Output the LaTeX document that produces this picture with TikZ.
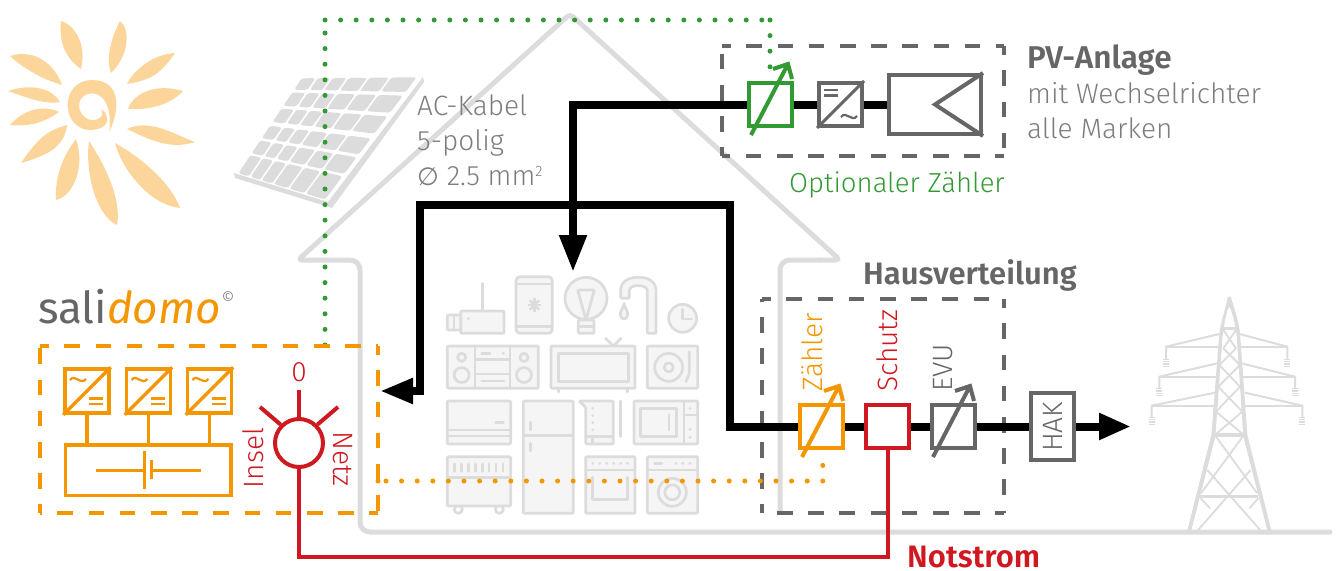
\documentclass[tikz,border=0pt]{standalone}
\usepackage{fontspec}
\setmainfont{Fira Sans Light}[BoldFont={Fira Sans SemiBold},ItalicFont={Fira Sans Light Italic}]
\newfontfamily\regfont{Fira Sans}
\newfontfamily\symfont{DejaVu Sans}
\usetikzlibrary{arrows.meta,calc,shapes.geometric}
\definecolor{ogreen}{HTML}{339933}
\definecolor{oorange}{HTML}{F39600}
\definecolor{ored}{HTML}{CF1820}
\definecolor{ogray}{HTML}{666666}
\definecolor{lgray}{HTML}{DCDCDC}
\definecolor{lfill}{HTML}{F5F5F5}
\definecolor{osun}{HTML}{FBD59A}
\newcommand{\fs}[1]{\fontsize{#1}{#1}\selectfont}
\tikzset{
 cbox/.style={draw=#1,line width=4pt,fill=white,minimum width=43pt,minimum height=43pt,inner sep=0pt,rectangle},
 cthin/.style={draw=#1,line width=3.5pt,fill=white,minimum width=44pt,minimum height=44pt,inner sep=0pt,rectangle},
 wire/.style={line width=8pt,black},
 owire/.style={line width=3.5pt,oorange},
 rwire/.style={line width=4pt,ored},
 dots/.style={line width=5pt,line cap=round,dash pattern=on 0pt off 15.6pt,#1},
 dside/.style={line width=4pt,#1,dash pattern=on 15.6pt off 15.6pt,dash phase=6.9pt},
 metar/.style={line width=4pt,#1},
 lbl/.style={inner sep=0pt,anchor=base west,font=\fs{28},text=#1},
 vlbl/.style={inner sep=0pt,rotate=90,anchor=west,font=\fs{28},text=#1},
 ico/.style={line width=2.7pt,draw=lgray,fill=lfill,line join=round,line cap=round,rounded corners=1pt},
 icl/.style={line width=2.7pt,draw=lgray,line cap=round,line join=round},
 tw/.style={line width=#1,lgray,line join=round},
 cell/.style={fill=lgray,rounded corners=2.5pt},
}
\newcommand{\dsbox}[3]{%
 \draw[dside=#3] (#1) -- (#1-|#2);
 \draw[dside=#3] (#1-|#2) -- (#2);
 \draw[dside=#3] (#2) -- (#2-|#1);
 \draw[dside=#3] (#2-|#1) -- (#1);
}
\newcommand{\acell}[4]{%
 \fill[cell] ($($(ctl)!#1!(ctr)$)!#3!($(cbl)!#1!(cbr)$)$) -- ($($(ctl)!#2!(ctr)$)!#3!($(cbl)!#2!(cbr)$)$) -- ($($(ctl)!#2!(ctr)$)!#4!($(cbl)!#2!(cbr)$)$) -- ($($(ctl)!#1!(ctr)$)!#4!($(cbl)!#1!(cbr)$)$) -- cycle;
}
\begin{document}
\begin{tikzpicture}[x=1pt,y=-1pt]
\useasboundingbox (0,0) rectangle (1338,570);
% ---- sun
\begin{scope}[fill=osun]
\fill (61,21) .. controls (75,25) and (87,45) .. (81,69) .. controls (65,58) and (59,42) .. cycle;
\fill (120,21) .. controls (130,28) and (130,55) .. (111,73) .. controls (106,60) and (110,40) .. cycle;
\fill (175,53) .. controls (155,54) and (135,68) .. (127,84) .. controls (150,80) and (160,75) .. cycle;
\fill (183,91) .. controls (160,84) and (135,90) .. (128,109) .. controls (150,110) and (170,105) .. cycle;
\fill (195,142) .. controls (175,135) and (150,118) .. (127,129) .. controls (150,140) and (170,150) .. cycle;
\fill (180,208) .. controls (172,185) and (145,160) .. (115,143) .. controls (122,170) and (150,205) .. cycle;
\fill (117,225) .. controls (122,200) and (105,165) .. (89,141) .. controls (85,170) and (95,215) .. cycle;
\fill (56,200) .. controls (75,195) and (85,165) .. (76,139) .. controls (60,160) and (55,180) .. cycle;
\fill (21,163) .. controls (50,155) and (65,145) .. (67,125) .. controls (50,130) and (40,135) .. cycle;
\fill (10,125) .. controls (30,127) and (45,122) .. (59,112) .. controls (45,105) and (25,108) .. cycle;
\fill (8,91) .. controls (25,97) and (45,105) .. (60,102) .. controls (50,85) and (25,85) .. cycle;
\fill (10,56) .. controls (25,70) and (45,80) .. (62,85) .. controls (55,65) and (35,48) .. cycle;
\begin{scope}[shift={(55,70)},x=.33333pt,y=-.33333pt]
\fill (163,185) .. controls (195,120) and (200,30) .. (110,30) .. controls (65,30) and (38,65) .. (38,105) .. controls (38,150) and (70,180) .. (105,180) .. controls (135,180) and (165,165) .. (155,140) .. controls (155,130) and (148,122) .. (140,118) .. controls (143,130) and (145,150) .. (112,150) .. controls (90,150) and (72,128) .. (72,105) .. controls (72,85) and (90,70) .. (110,70) .. controls (145,70) and (170,105) .. cycle;
\end{scope}
\end{scope}
% ---- solar panel
\fill[lgray] (234,173) -- (328,202) -- (423,77) -- (424,82) -- (332,208) -- (235,178) -- cycle;
\coordinate (ctl) at (301.7,78.3);
\coordinate (ctr) at (416.7,77.3);
\coordinate (cbl) at (238.3,173.3);
\coordinate (cbr) at (325,199.5);
\foreach \va/\vb in {0/.12,.15/.29,.32/.46,.50/.63,.655/.79,.81/1}{
 \foreach \ua/\ub in {0/.12,.14/.25,.27/.39,.41/.57,.59/.76,.78/1}{
  \acell{\ua}{\ub}{\va}{\vb}
 }
}
% ---- house
\draw[line width=5pt,lgray,line join=round,line cap=round,rounded corners=10pt] (1330,532) -- (360,532) -- (360,260) -- (320,260);
\draw[line width=5pt,lgray,line join=round,line cap=round,rounded corners=4pt] (320,260) -- (298,260) -- (570,14) -- (840,260) -- (820,260);
\draw[line width=5pt,lgray,line cap=round,rounded corners=10pt] (820,260) -- (780,260) -- (780,512);
% ---- appliances
\begin{scope}[shift={(430,270)},x=.33333pt,y=-.33333pt]
 \draw[ico] (92,123) rectangle (222,190); \draw[ico] (52,135) rectangle (92,180);
 \draw[icl] (72,135) -- (72,180); \draw[icl] (157,40) -- (157,123);
 \fill[lgray] (115,146) circle (1.6pt);
 \draw[ico,rounded corners=4pt] (258,20) rectangle (367,190);
 \draw[icl] (258,42) -- (367,42); \draw[icl] (258,170) -- (367,170);
 \foreach \a in {0,45,...,315}{\draw[line width=2.4pt,lgray] (313,105) -- ++(\a:20);}
 \draw[ico] (468,85) circle (21pt);
 \draw[ico] (445,150) rectangle (492,190); \draw[icl] (445,170) -- (492,170);
 \draw[ico] (443,60) -- (493,60) -- (468,150) -- cycle;
 \draw[ico] (572,85) -- (572,65) .. controls (572,35) and (595,22) .. (625,22) .. controls (655,22) and (678,35) .. (678,65) -- (678,190) -- (652,190) -- (652,65) .. controls (652,52) and (640,47) .. (625,47) .. controls (610,47) and (598,52) .. (598,65) -- (598,85) -- cycle;
 \draw[ico] (582,103) .. controls (575,120) and (570,128) .. (572,135) .. controls (574,150) and (590,150) .. (592,135) .. controls (594,128) and (589,120) .. (582,103) -- cycle;
 \draw[ico] (758,145) circle (14pt); \draw[icl] (758,118) -- (758,147) -- (785,147);
 \draw[ico] (52,228) rectangle (325,355);
 \draw[icl] (135,228) -- (135,355); \draw[icl] (240,228) -- (240,355);
 \draw[icl] (135,268) -- (240,268); \draw[icl] (135,312) -- (240,312);
 \draw[icl] (95,262) circle (4pt); \draw[icl] (95,315) circle (7.5pt);
 \draw[icl] (282,262) circle (4pt); \draw[icl] (282,315) circle (7.5pt);
 \draw[icl] (155,250) -- (180,250); \fill[lgray] (220,250) circle (1.6pt); \draw[icl] (155,333) -- (222,333);
 \draw[icl] (527,205) -- (550,228) -- (573,205);
 \draw[icl] (385,355) -- (385,366); \draw[icl] (592,355) -- (592,366);
 \draw[ico] (363,228) rectangle (615,355); \draw[icl] (385,250) rectangle (595,335);
 \draw[ico] (652,228) rectangle (803,355);
 \draw[icl] (716,292) circle (14pt); \draw[icl] (716,292) circle (4.5pt);
 \draw[icl] (778,245) -- (778,310) -- (768,335);
 \draw[ico] (52,393) rectangle (242,522);
 \draw[icl] (52,480) -- (242,480); \draw[icl] (52,498) -- (242,498); \draw[icl] (197,458) -- (220,458);
 \draw[ico] (280,393) rectangle (430,730); \draw[icl] (280,497) -- (430,497);
 \draw[icl] (302,457) -- (302,480); \draw[icl] (302,520) -- (302,543);
 \draw[ico] (447,393) -- (550,393) -- (550,522) -- (467,522) -- (467,412) -- cycle;
 \draw[icl] (572,393) -- (572,500); \draw[icl] (467,500) -- (550,500); \draw[icl] (487,500) -- (487,522);
 \foreach \y in {415,437,458,480}{\fill[lgray] (488,\y) circle (1.5pt);}
 \draw[ico] (612,393) rectangle (803,522); \draw[icl] (632,415) rectangle (740,500);
 \draw[icl] (762,393) -- (762,522); \draw[icl] (762,435) -- (803,435); \draw[icl] (717,435) -- (717,480);
 \foreach \y in {415,478,502}{\fill[lgray] (780,\y) circle (1.5pt);}
 \draw[icl] (85,718) circle (4pt); \draw[icl] (208,718) circle (4pt);
 \draw[ico] (52,560) rectangle (242,708); \draw[icl] (52,622) -- (242,622);
 \foreach \x in {73,94,115,136,157,177,198,219}{\draw[icl] (\x,582) -- (\x,604);}
 \draw[ico] (467,560) rectangle (615,730); \draw[icl] (467,600) -- (615,600);
 \foreach \x in {488,509,530,551,572,592}{\fill[lgray] (\x,580) circle (1.5pt);}
 \draw[icl] (488,622) -- (488,688) -- (593,688) -- (593,622);
 \draw[ico] (652,560) rectangle (803,730); \draw[icl] (652,600) -- (803,600);
 \draw[icl] (674,580) -- (696,580);
 \foreach \x in {738,758,780}{\fill[lgray] (\x,580) circle (1.5pt);}
 \draw[icl] (727,667) circle (14pt); \draw[icl] (727,667) circle (7.5pt);
\end{scope}
% ---- pylon
\begin{scope}[shift={(1130,280)},x=.33333pt,y=-.33333pt]
 \fill[lgray] (294,50) -- (302,50) .. controls (315,90) and (327,130) .. (330,160) -- (352,465) -- (425,755) -- (413,755) -- (340,470) -- (320,165) .. controls (315,130) and (305,90) .. (298,80) .. controls (290,90) and (283,130) .. (278,165) -- (256,470) -- (183,755) -- (171,755) -- (244,465) -- (268,160) .. controls (272,130) and (285,90) .. cycle;
 \draw[tw=3pt] (278,145) -- (322,145);
 \draw[tw=3.5pt] (250,465) -- (345,465);
 \draw[tw=3pt] (210,650) -- (385,650);
 \draw[tw=1.8pt] (280,150) -- (318,205) -- (268,255) -- (330,320) -- (258,395) -- (338,462);
 \draw[tw=1.8pt] (318,150) -- (280,205) -- (330,255) -- (265,320) -- (337,395) -- (258,462);
 \draw[tw=1.8pt] (258,470) -- (382,640);
 \draw[tw=1.8pt] (338,470) -- (213,640);
 \draw[tw=1.8pt] (232,570) -- (395,755);
 \draw[tw=1.8pt] (362,570) -- (200,755);
 \draw[tw=1.8pt] (212,655) -- (240,685); \draw[tw=1.8pt] (385,655) -- (358,685);
 \foreach \xl/\xr/\yb/\yc/\yd/\xa/\xc in {108/472/162/200/238/268/328,88/495/250/290/326/262/335,65/517/338/377/412/255/345}{
  \draw[tw=2pt] (\xa,\yb) -- (\xl,\yc) -- (\xl,\yd);
  \draw[tw=2pt] (\xl,\yc) -- (\xa,\yc);
  \draw[tw=2pt] (\xc,\yb) -- (\xr,\yc) -- (\xr,\yd);
  \draw[tw=2pt] (\xr,\yc) -- (\xc,\yc);
  \foreach \xx in {\xl,\xr}{\foreach \k in {0,7,14,21}{\draw[tw=1.6pt] (\xx-9,\yd+\k) -- (\xx+9,\yd+\k);}}
 }
\end{scope}
% ---- dotted signal lines
\coordinate (gs) at (325,345);
\coordinate (gc) at (325,20);
\coordinate (gd) at (770,20);
\coordinate (ot) at (378,481);
\coordinate (os) at (386,481);
\coordinate (oc) at (822.8,481);
\coordinate (oe) at (822.8,452);
\draw[dots=ogreen] (gs) -- (gc);
\draw[dots=ogreen] (gc) -- (gd);
% ---- dashed enclosures
\coordinate (pvA) at (722,46); \coordinate (pvB) at (1004,156);
\coordinate (hvA) at (762,299); \coordinate (hvB) at (1004,513);
\coordinate (saA) at (40,346); \coordinate (saB) at (378,513);
\dsbox{pvA}{pvB}{ogray}
\dsbox{hvA}{hvB}{ogray}
\dsbox{saA}{saB}{oorange}
\draw[dots=oorange] (ot) -- (os);
\draw[dots=oorange] (os) -- (oc);
\draw[dots=oorange] (oc) -- (oe);
% ---- components
\node[cbox=ogreen] (optm) at (770,104.5) {};
\node[cbox=ogray,minimum width=43pt] (conv) at (840.5,104.5) {};
\node[cbox=ogray,minimum width=92pt,minimum height=59pt] (pvg) at (935,104.5) {};
\node[cbox=oorange] (zm) at (821.5,426.5) {};
\node[cbox=ored] (sm) at (887.5,426.5) {};
\node[cbox=ogray] (em) at (953,426.5) {};
\node[cbox=ogray,minimum height=67pt] (hak) at (1052.5,426.5) {};
\node[cthin=oorange] (inv1) at (87,391) {};
\node[cthin=oorange] (inv2) at (148.5,391) {};
\node[cthin=oorange] (inv3) at (209.5,391) {};
\node[cbox=oorange,line width=3.5pt,minimum width=165.5pt,minimum height=50.5pt] (bat) at (148,470) {};
\node[circle,draw=ored,line width=4pt,fill=white,minimum size=48pt,inner sep=0pt] (sw) at (299,443) {};
\draw[dots=ogreen] (gd) -- (optm.north);
% ---- heavy black wires
\coordinate (lamp) at (573,272);
\coordinate (inv) at (380,391);
\coordinate (grid) at (1131,426.5);
\coordinate (w1) at (730,205);
\coordinate (w2) at (420,205);
\coordinate (w3) at (420,391);
\draw[wire,-{Triangle[length=37pt,width=26pt]}] (optm.west) -| (lamp);
\draw[wire] (optm.east) -- (conv.west);
\draw[wire] (conv.east) -- (pvg.west);
\draw[wire,-{Triangle[length=33pt,width=24pt]},line join=miter] (zm.west) -| (w1) -- (w2) -- (w3) -- (inv);
\draw[wire] (zm.east) -- (sm.west);
\draw[wire] (sm.east) -- (em.west);
\draw[wire] (em.east) -- (hak.west);
\draw[wire,-{Triangle[length=32pt,width=25pt]}] (hak.east) -- (grid);
% ---- meter arrows
\newcommand{\mt}[3]{\draw[metar=#3] (#1,#2) -- ++(37,-71) ++(-15,5) -- ++(15,-5) -- ++(4,15);}
\mt{751}{135}{ogreen}
\mt{802}{457}{oorange}
\mt{933}{457}{ogray}
% ---- converter symbols
\draw[line width=3pt,ogray] (conv.south west) -- (conv.north east);
\draw[line width=2.5pt,ogray] (824,90) -- (838,90) (824,95.5) -- (838,95.5);
\draw[line width=2.2pt,ogray] (841,117) .. controls (846,110) and (852,123) .. (857,116);
\draw[line width=4pt,ogray] (pvg.north east) -- (935,104.5) -- (pvg.south east);
\foreach \n in {inv1,inv2,inv3}{
 \draw[owire] (\n.south west) -- (\n.north east);
 \draw[line width=2.5pt,oorange] ($(\n.center)+(2,7.5)$) -- ++(14,0) ($(\n.center)+(2,13)$) -- ++(14,0);
 \draw[line width=2.2pt,oorange] ($(\n.center)+(-17,-11)$) .. controls +(5,-7) and +(-6,7) .. ++(16,-1);
 \draw[owire] (\n.south) -- (\n.south|-bat.north);
}
\coordinate (ba) at (96,470); \coordinate (bb) at (144.7,470); \coordinate (bc) at (151.7,470); \coordinate (bd) at (200.7,470);
\draw[line width=3pt,oorange] (ba) -- (bb);
\draw[line width=3pt,oorange] (bc) -- (bd);
\draw[line width=3.5pt,oorange] (144.7,451) -- (144.7,489);
\draw[line width=3.5pt,oorange] (151.7,460) -- (151.7,479);
% ---- selector
\coordinate (r0) at (299,390); \coordinate (rl) at (260,407); \coordinate (rr) at (338,407); \coordinate (nl) at (299,557);
\draw[rwire] (sw.north) -- (r0);
\draw[rwire] (sw.north west) -- (rl);
\draw[rwire] (sw.north east) -- (rr);
\draw[rwire] (sw.south) -- (nl) -| (sm.south);
% ---- texts
\node[inner sep=0pt,anchor=base west,font=\fs{44}\regfont] (tsali) at (38,323) {\textcolor{ogray}{sali}\textcolor{oorange}{\fontspec{Fira Sans Italic}domo}};
\node[inner sep=0pt,font=\fs{16},text=ogray] (tcopy) at (228,298) {©};
\node[inner sep=0pt,font=\fs{28},text=ored] (t0) at (299,372) {0};
\node[inner sep=0pt,font=\fs{28},text=ored,rotate=90] (tin) at (253,458) {Insel};
\node[inner sep=0pt,font=\fs{28},text=ored,rotate=-90] (tnetz) at (343,459) {Netz};
\node[lbl=ogray!85] (ta) at (417,115) {AC-Kabel};
\node[lbl=ogray!85] (tb) at (417,150) {5-polig};
\node[lbl=ogray!85] (tc) at (417,185) {{\symfont\fs{25}∅} 2.5 mm\raisebox{9pt}{\fs{15}2}};
\node[lbl=ogray,font=\fs{31.5}\bfseries] (tp) at (1027,68) {PV-Anlage};
\node[lbl=ogray!85] (tq) at (1027,103) {mit Wechselrichter};
\node[lbl=ogray!85] (tr) at (1027,138) {alle Marken};
\node[lbl=ogreen,font=\fs{27.5}] (ts) at (789,192) {Optionaler Zähler};
\node[lbl=ogray,font=\fs{31}\bfseries] (th) at (863,284) {Hausverteilung};
\node[vlbl=oorange] (tz) at (812,392) {Zähler};
\node[vlbl=ored] (tsch) at (887,392) {Schutz};
\node[vlbl=ogray] (tev) at (943,392) {EVU};
\node[inner sep=0pt,font=\fs{28},text=ogray,rotate=90] (thak) at (1052.5,427) {HAK};
\node[lbl=ored,font=\fs{31}\bfseries] (tn) at (907,567) {Notstrom};
\end{tikzpicture}
\end{document}
